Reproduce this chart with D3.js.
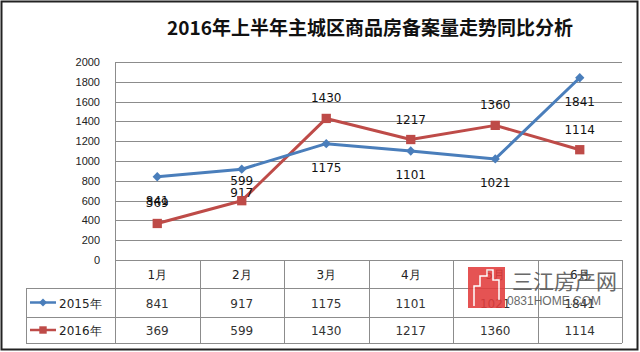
<!DOCTYPE html>
<html>
<head>
<meta charset="utf-8">
<script src="https://cdn.jsdelivr.net/npm/d3@7"></script>
<style>
  body { margin: 0; background: #fff; }
  svg { display: block; font-family: "DejaVu Sans", Verdana, sans-serif; }
</style>
</head>
<body>
<svg width="640" height="352"></svg>
<script>
'use strict';

const months = ["1月", "2月", "3月", "4月", "5月", "6月"];
const seriesNames = ["2015年", "2016年"];
const values2015 = [841, 917, 1175, 1101, 1021, 1841];
const values2016 = [369, 599, 1430, 1217, 1360, 1114];
const yTicks = [0, 200, 400, 600, 800, 1000, 1200, 1400, 1600, 1800, 2000];
const title = "2016年上半年主城区商品房备案量走势同比分析";

const svg = d3.select("svg");
const plot = { left: 115, right: 622, top: 62, bottom: 260 };
const rows = [260, 288, 317, 343];
const legendLeft = 26;

const x = d3.scaleBand().domain(months).range([plot.left, plot.right]);
const y = d3.scaleLinear().domain([0, 2000]).range([plot.bottom, plot.top]);

const series = [
    { name: seriesNames[0], values: values2015, color: "#4a7ebb", marker: "diamond", labelDy: 28 },
    { name: seriesNames[1], values: values2016, color: "#be4b48", marker: "square", labelDy: -16 }
];

// outer frame
svg.append("rect")
    .attr("x", 1.5).attr("y", 1.5)
    .attr("width", 636).attr("height", 348)
    .attr("fill", "#fff").attr("stroke", "#222").attr("stroke-width", 2);

svg.append("text")
    .attr("x", 370).attr("y", 35)
    .attr("text-anchor", "middle")
    .style("font-family", "'Noto Sans CJK SC', sans-serif")
    .style("font-weight", "bold")
    .style("font-size", "19px")
    .attr("fill", "#111")
    .text(title);

// gridlines
svg.append("g")
    .selectAll("line")
    .data(yTicks)
    .join("line")
    .attr("x1", plot.left).attr("x2", plot.right)
    .attr("y1", d => Math.round(y(d)) + 0.5).attr("y2", d => Math.round(y(d)) + 0.5)
    .attr("stroke", "#8c8c8c");

// y axis
const yAxis = d3.axisLeft(y).tickValues(yTicks).tickFormat(d3.format("d")).tickSize(0).tickPadding(15);
svg.append("g")
    .attr("transform", `translate(${plot.left},0)`)
    .call(yAxis)
    .call(g => g.select(".domain").attr("stroke", "#8c8c8c"))
    .call(g => g.selectAll("text").style("font-size", "11px").attr("fill", "#222"));

// data table
const table = svg.append("g").attr("stroke", "#8c8c8c").attr("fill", "none");
table.append("line").attr("x1", plot.left + 0.5).attr("x2", plot.left + 0.5)
    .attr("y1", plot.top).attr("y2", rows[3]);
table.selectAll("line.v")
    .data(months)
    .join("line")
    .attr("class", "v")
    .attr("x1", d => Math.round(x(d) + x.bandwidth()) + 0.5)
    .attr("x2", d => Math.round(x(d) + x.bandwidth()) + 0.5)
    .attr("y1", rows[0]).attr("y2", rows[3]);
table.selectAll("line.h")
    .data(rows.slice(1))
    .join("line")
    .attr("class", "h")
    .attr("x1", legendLeft).attr("x2", plot.right)
    .attr("y1", d => d + 0.5).attr("y2", d => d + 0.5);
table.append("line").attr("x1", legendLeft + 0.5).attr("x2", legendLeft + 0.5)
    .attr("y1", rows[1]).attr("y2", rows[3]);

svg.append("g")
    .selectAll("text")
    .data(months)
    .join("text")
    .attr("x", d => x(d) + x.bandwidth() / 2)
    .attr("y", (rows[0] + rows[1]) / 2 + 5)
    .attr("text-anchor", "middle")
    .style("font-size", "12px")
    .attr("fill", "#222")
    .text(d => d);

series.forEach((s, si) => {
    const rowMid = (rows[si + 1] + rows[si + 2]) / 2;
    svg.append("g")
        .selectAll("text")
        .data(s.values)
        .join("text")
        .attr("x", (d, i) => x(months[i]) + x.bandwidth() / 2)
        .attr("y", rowMid + 5)
        .attr("text-anchor", "middle")
        .style("font-size", "12px")
        .attr("fill", "#333")
        .text(d => d);

    // legend key
    const lg = svg.append("g");
    lg.append("line")
        .attr("x1", 30).attr("x2", 56)
        .attr("y1", rowMid).attr("y2", rowMid)
        .attr("stroke", s.color).attr("stroke-width", 2.5);
    lg.append("path")
        .attr("transform", `translate(43,${rowMid})`)
        .attr("d", s.marker === "diamond"
            ? d3.symbol(d3.symbolDiamond2, 40)()
            : d3.symbol(d3.symbolSquare2, 70)())
        .attr("fill", s.color);
    lg.append("text")
        .attr("x", 59).attr("y", rowMid + 5)
        .style("font-size", "12px")
        .attr("fill", "#222")
        .text(s.name);
});

// lines
const line = d3.line()
    .x((d, i) => x(months[i]) + x.bandwidth() / 2)
    .y(d => y(d));

series.slice().reverse().forEach(s => {
    svg.append("path")
        .datum(s.values)
        .attr("d", line)
        .attr("fill", "none")
        .attr("stroke", s.color)
        .attr("stroke-width", 3)
        .attr("stroke-linejoin", "round");
});

series.forEach(s => {
    svg.append("g")
        .selectAll("path")
        .data(s.values)
        .join("path")
        .attr("transform", (d, i) => `translate(${x(months[i]) + x.bandwidth() / 2},${y(d)})`)
        .attr("d", s.marker === "diamond"
            ? d3.symbol(d3.symbolDiamond2, 55)()
            : d3.symbol(d3.symbolSquare2, 110)())
        .attr("fill", s.color);

    svg.append("g")
        .selectAll("text")
        .data(s.values)
        .join("text")
        .attr("x", (d, i) => x(months[i]) + x.bandwidth() / 2)
        .attr("y", d => y(d) + s.labelDy)
        .attr("text-anchor", "middle")
        .style("font-size", "12px")
        .attr("fill", "#111")
        .text(d => d);
});

// watermark
const wm = svg.append("g").attr("opacity", 0.88);
wm.append("rect")
    .attr("x", 468).attr("y", 267).attr("width", 37).attr("height", 41)
    .attr("fill", "#e23c3c");
wm.append("path")
    .attr("d", "M474,306 V286 H480 V276 H487 V270 H493 V280 H499 V300")
    .attr("fill", "none").attr("stroke", "#fff").attr("stroke-width", 1.5);
wm.append("text")
    .attr("x", 512).attr("y", 289)
    .style("font-family", "'Noto Sans CJK SC', sans-serif")
    .style("font-size", "21px")
    .attr("fill", "#555")
    .text("三江房产网");
wm.append("text")
    .attr("x", 507).attr("y", 305)
    .style("font-family", "'Liberation Sans Narrow', 'Liberation Sans', sans-serif")
    .style("font-size", "12px")
    .attr("fill", "#555")
    .text("0831HOME.COM");
</script>
</body>
</html>
